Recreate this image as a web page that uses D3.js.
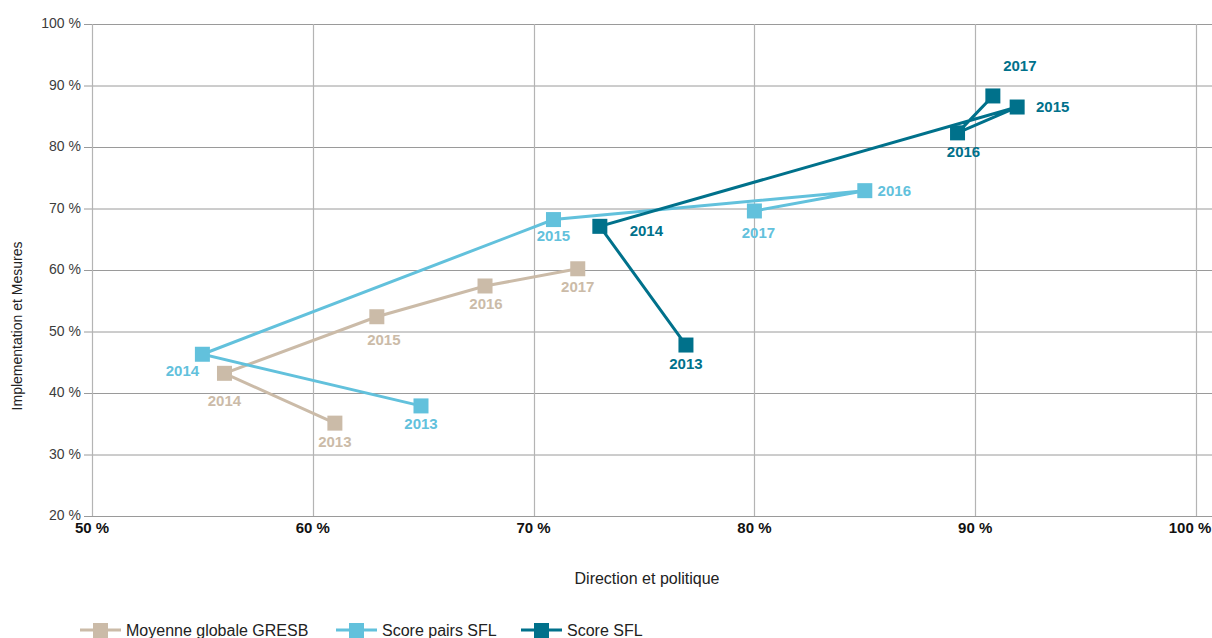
<!DOCTYPE html>
<html>
<head>
<meta charset="utf-8">
<script src="https://cdn.jsdelivr.net/npm/d3@7"></script>
<style>
  body { margin: 0; background: #fff; }
  svg { font-family: "Liberation Sans", Arial, sans-serif; }
</style>
</head>
<body>
<div id="chart_div"></div>
<script>
// data
var years = ['2013', '2014', '2015', '2016', '2017'];

var gresb_x = [61.0, 56.0, 62.9, 67.8, 72.0];
var gresb_y = [35.1, 43.2, 52.4, 57.4, 60.2];

var pairs_x = [64.9, 55.0, 70.9, 85.0, 80.0];
var pairs_y = [37.9, 46.3, 68.2, 72.9, 69.6];

var sfl_x = [76.9, 73.0, 91.9, 89.2, 90.8];
var sfl_y = [47.8, 67.1, 86.5, 82.3, 88.3];

var series_names = ['Moyenne globale GRESB', 'Score pairs SFL', 'Score SFL'];

var x_ticks = [50, 60, 70, 80, 90, 100];
var y_ticks = [20, 30, 40, 50, 60, 70, 80, 90, 100];

// offsets of each year label's centre from its marker (pixels)
var label_dx = [
  [0, 0, 7, 1, 0],
  [0, -20, 0, 29.5, 4],
  [0, 46.5, 35.5, 6, 27]
];
var label_dy = [
  [19, 28, 23, 18, 18],
  [18, 17, 16, 0, 22],
  [19, 5, 0, 19, -30]
];

var colors = ['#cbbba8', '#62c1dc', '#00718b'];

// set some variables
var svg_width = 1212,
    svg_height = 638;

var svg = d3.select('#chart_div')
  .append('svg')
  .attr('width', svg_width)
  .attr('height', svg_height);

var x = d3.scaleLinear().domain([50, 100]).range([92, 1196]);
var y = d3.scaleLinear().domain([20, 100]).range([516, 24]);

// grid
var grid = svg.append('g');
grid.selectAll('.hgrid')
  .data(y_ticks)
  .enter().append('line')
  .attr('x1', 84).attr('x2', 1212)
  .attr('y1', function (d) { return y(d) + 0.5; })
  .attr('y2', function (d) { return y(d) + 0.5; })
  .attr('stroke', '#9a9a9a')
  .attr('stroke-width', 1);
grid.selectAll('.vgrid')
  .data(x_ticks)
  .enter().append('line')
  .attr('y1', y(100)).attr('y2', y(20))
  .attr('x1', function (d) { return Math.round(x(d)) + 0.5; })
  .attr('x2', function (d) { return Math.round(x(d)) + 0.5; })
  .attr('stroke', '#b4b4b4')
  .attr('stroke-width', 1.2);

// y tick labels
svg.append('g').selectAll('text')
  .data(y_ticks)
  .enter().append('text')
  .attr('x', 81)
  .attr('y', function (d) { return y(d) + 4; })
  .attr('text-anchor', 'end')
  .attr('fill', '#3c3c3c')
  .style('font-size', '14px')
  .text(function (d) { return d + ' %'; });

// x tick labels (last one pulled in so it stays on the page)
svg.append('g').selectAll('text')
  .data(x_ticks)
  .enter().append('text')
  .attr('x', function (d) { return x(d) + (d === 100 ? -6 : 0); })
  .attr('y', 533)
  .attr('text-anchor', 'middle')
  .attr('fill', '#111')
  .style('font-size', '15px')
  .style('font-weight', 'bold')
  .text(function (d) { return d + ' %'; });

// axis titles
svg.append('text')
  .attr('transform', 'translate(22,326) rotate(-90)')
  .attr('text-anchor', 'middle')
  .attr('fill', '#222')
  .style('font-size', '14px')
  .text('Implementation et Mesures');
svg.append('text')
  .attr('x', 647)
  .attr('y', 584)
  .attr('text-anchor', 'middle')
  .attr('fill', '#222')
  .style('font-size', '16px')
  .text('Direction et politique');

var all_series = [
  {xs: gresb_x, ys: gresb_y},
  {xs: pairs_x, ys: pairs_y},
  {xs: sfl_x, ys: sfl_y}
];

var line = d3.line()
  .x(function (d) { return x(d.x); })
  .y(function (d) { return y(d.y); });

var msize = 15;

all_series.forEach(function (s, k) {
  var pts = years.map(function (yr, i) {
    return {year: yr, x: s.xs[i], y: s.ys[i], dx: label_dx[k][i], dy: label_dy[k][i]};
  });
  var g = svg.append('g');
  g.append('path')
    .datum(pts)
    .attr('d', line)
    .attr('fill', 'none')
    .attr('stroke', colors[k])
    .attr('stroke-width', 3);
  g.selectAll('rect')
    .data(pts)
    .enter().append('rect')
    .attr('x', function (d) { return x(d.x) - msize / 2; })
    .attr('y', function (d) { return y(d.y) - msize / 2; })
    .attr('width', msize)
    .attr('height', msize)
    .attr('fill', colors[k]);
  g.selectAll('text')
    .data(pts)
    .enter().append('text')
    .attr('x', function (d) { return x(d.x) + d.dx; })
    .attr('y', function (d) { return y(d.y) + d.dy + 5; })
    .attr('text-anchor', 'middle')
    .attr('fill', colors[k])
    .style('font-size', '15px')
    .style('font-weight', 'bold')
    .text(function (d) { return d.year; });
});

// legend
var legend_x = [80, 336, 521];
var legend = svg.append('g');
series_names.forEach(function (name, k) {
  var lx = legend_x[k], ly = 630;
  legend.append('line')
    .attr('x1', lx).attr('x2', lx + 41)
    .attr('y1', ly).attr('y2', ly)
    .attr('stroke', colors[k])
    .attr('stroke-width', 3);
  legend.append('rect')
    .attr('x', lx + 13).attr('y', ly - 7)
    .attr('width', 15).attr('height', 15)
    .attr('fill', colors[k]);
  legend.append('text')
    .attr('x', lx + 46)
    .attr('y', ly + 6)
    .attr('fill', '#222')
    .style('font-size', '16px')
    .text(name);
});
</script>
</body>
</html>
